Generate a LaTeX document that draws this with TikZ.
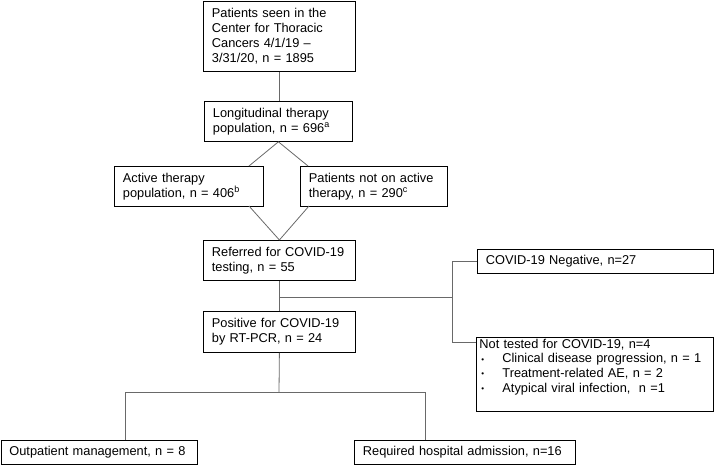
\documentclass[tikz,border=0pt]{standalone}
\usepackage{fontspec}
\setmainfont{Liberation Sans}
\usetikzlibrary{calc}
\definecolor{conncol}{RGB}{105,105,105}
\newcommand{\fs}{\fontsize{12.8}{15}\selectfont}
\newcommand{\bul}{\makebox[23pt][l]{\hspace{2pt}\raisebox{0.8pt}{\footnotesize\textbullet}}}
\begin{document}
\begin{tikzpicture}[x=1pt,y=-1pt,
  box/.style={draw=black, line width=0.8pt, anchor=north west, align=left,
    inner xsep=8.5pt, inner ysep=0pt, font=\fs},
  conn/.style={draw=conncol, line width=0.8pt}]
\useasboundingbox (0,0) rectangle (715,464);
% boxes
\node[box, minimum width=152pt, text width=135pt, minimum height=70.5pt] (b1) at (203,0.5)
  {Patients seen in the\\Center for Thoracic\\Cancers 4/1/19 --\\3/31/20, n = 1895};
\node[box, minimum width=148pt, text width=131pt, minimum height=40pt] (b2) at (204,101)
  {Longitudinal therapy\\population, n = 696\textsuperscript{a}};
\node[box, minimum width=149pt, text width=132pt, minimum height=40pt] (act) at (114,166)
  {Active therapy\\population, n = 406\textsuperscript{b}};
\node[box, minimum width=147pt, text width=130pt, minimum height=40pt] (nact) at (300,166)
  {Patients not on active\\therapy, n = 290\textsuperscript{c}};
\node[box, minimum width=152pt, text width=135pt, minimum height=40pt] (ref) at (203,240)
  {Referred for COVID-19\\testing, n = 55};
\node[box, minimum width=152pt, text width=135pt, minimum height=41pt] (pos) at (203,311)
  {Positive for COVID-19\\by RT-PCR, n = 24};
\node[box, minimum width=236pt, text width=219pt, minimum height=24pt] (neg) at (477,249)
  {COVID-19 Negative, n=27};
\node[box, minimum width=237pt, text width=231pt, minimum height=74pt, inner xsep=3pt] (nt) at (476,337)
  {\begin{minipage}[t][72pt][t]{231pt}\fontsize{12.8}{14.8}\selectfont
   \vspace{0.5pt}Not tested for COVID-19, n=4\\
   \bul Clinical disease progression, n = 1\\
   \bul Treatment-related AE, n = 2\\
   \bul Atypical viral infection,\ \ n =1
   \end{minipage}};
\node[box, minimum width=196.5pt, text width=179.5pt, minimum height=24pt] (out) at (0.5,439.5)
  {Outpatient management, n = 8};
\node[box, minimum width=221pt, text width=204pt, minimum height=24pt] (req) at (354,439.5)
  {Required hospital admission, n=16};
% connectors
\draw[conn] (b1.south) -- (b1.south |- b2.north);
\coordinate (dL1) at (249,166);
\coordinate (dR1) at (308,166);
\coordinate (dL2) at (249,206);
\coordinate (dR2) at (309,206);
\draw[conn] (b2.south) -- (dL1);
\draw[conn] (b2.south) -- (dR1);
\draw[conn] (dL2) -- (ref.north);
\draw[conn] (dR2) -- (ref.north);
\coordinate (jA) at (279,297);
\coordinate (jB) at (452,297);
\coordinate (ntin) at (476,342);
\draw[conn] (ref.south) -- (pos.north);
\draw[conn] (jA) -- (jB);
\draw[conn] (neg.west) -| (jB);
\draw[conn] (ntin) -| (jB);
\coordinate (jC) at (279,392);
\coordinate (oL) at (125,392);
\coordinate (oR) at (425,392);
\draw[conn] (pos.south) -- (jC);
\draw[conn] (oL) -- (oR);
\draw[conn] (oL) -- (oL |- out.north);
\draw[conn] (oR) -- (oR |- req.north);
\end{tikzpicture}
\end{document}
